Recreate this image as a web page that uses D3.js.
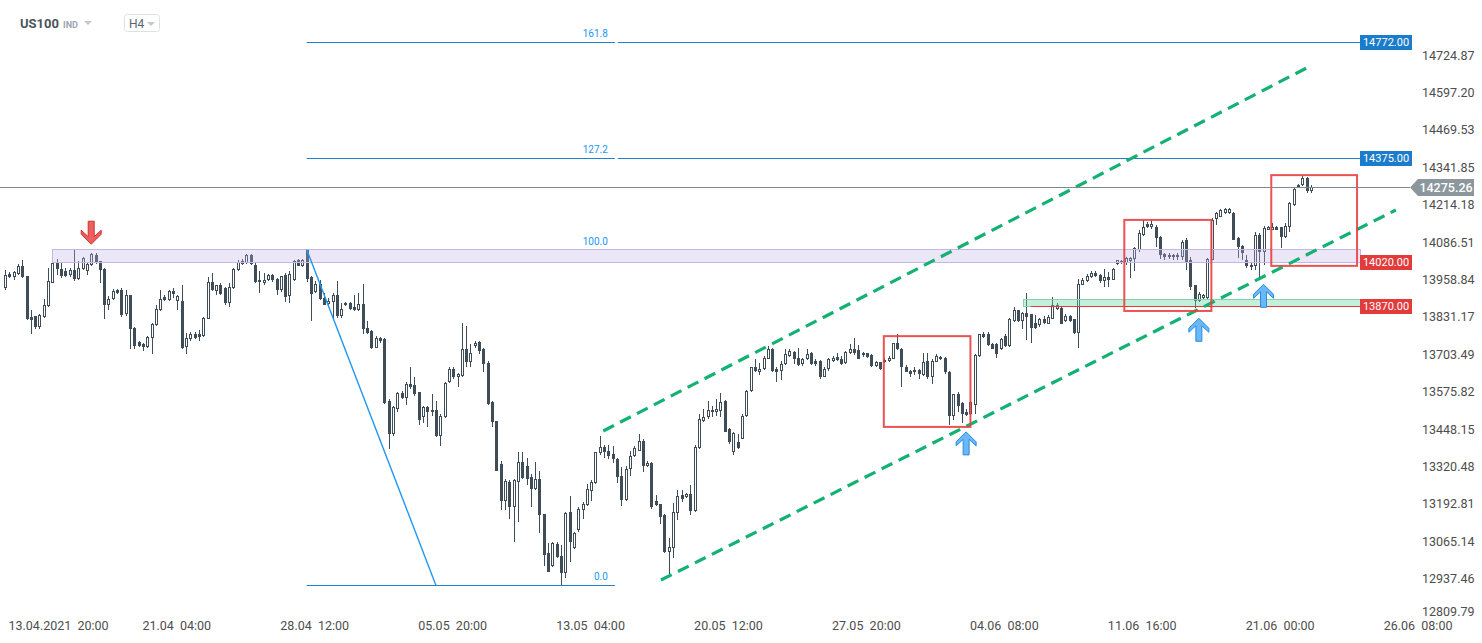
<!DOCTYPE html>
<html><head><meta charset="utf-8">
<script src="https://cdn.jsdelivr.net/npm/d3@7"></script>
<style>
html,body{margin:0;padding:0;background:#fff;}
svg{display:block;font-family:Roboto,"Noto Sans",Arial,sans-serif;}
</style></head><body>
<svg id="c" width="1482" height="643"></svg>
<script>
// ---------------- DATA ----------------
const openP = [13932,13980,13969,13980,14005,13974,13833,13835,13799,13833,13869,13949,14017,13996,13988,13977,13994,13962,13996,13988,
14011,14045,14025,13996,13875,13894,13924,13926,13841,13906,13796,13747,13739,13731,13762,13804,13858,13901,13892,13920,
13886,13886,13731,13758,13773,13773,13767,13826,13951,13920,13940,13932,13881,13932,13992,14014,14017,14045,14011,13960,
13949,13960,13977,13962,13926,13977,13903,13960,14026,14005,14060,13969,13919,13946,13898,13878,13883,13909,13835,13881,
13881,13866,13858,13878,13796,13784,13728,13762,13756,13545,13433,13518,13572,13557,13602,13600,13575,13490,13525,13515,
13515,13425,13490,13611,13656,13629,13631,13724,13679,13733,13747,13722,13674,13541,13476,13331,13203,13269,13184,13269,
13337,13323,13286,13244,13280,13161,13025,12983,13057,13017,12957,13167,13042,13104,13172,13189,13237,13266,13368,13388,
13374,13365,13348,13291,13206,13314,13357,13376,13410,13325,13334,13204,13193,13155,13031,13044,13164,13223,13218,13229,
13169,13384,13478,13490,13516,13509,13512,13546,13450,13371,13405,13416,13493,13578,13660,13645,13654,13690,13722,13654,
13648,13671,13699,13713,13694,13671,13688,13711,13682,13682,13629,13654,13682,13697,13690,13674,13708,13724,13720,13702,
13708,13702,13665,13677,13677,13682,13690,13742,13724,13663,13648,13643,13652,13635,13682,13626,13680,13697,13694,13645,
13495,13569,13538,13507,13501,13532,13699,13776,13776,13739,13739,13724,13767,13733,13818,13855,13818,13847,13841,13813,
13804,13824,13810,13826,13860,13864,13818,13835,13824,13779,13943,13954,13969,13983,13977,13954,13969,13960,14014,14023,
14017,14022,14030,14062,14113,14150,14139,14141,14107,14048,14045,14037,14037,14037,14096,14028,13940,13886,13898,13898,
14028,14166,14175,14187,14187,14189,14102,14076,14028,14011,14005,14113,14056,14130,14130,14141,14139,14107,14139,14215,
14275,14283,14306,14264];
const highP = [13994,13985,13988,14014,14028,13974,13858,13835,13841,13894,14000,14022,14030,14017,14000,14000,14060,14022,14037,14019,
14051,14051,14025,14000,13903,13928,13928,13932,13926,13909,13799,13750,13745,13767,13813,13875,13924,13909,13926,13932,
13909,13943,13779,13781,13781,13788,13833,13969,13983,13943,13949,13935,13949,14000,14028,14030,14048,14048,14017,13988,
13983,13980,13979,13966,13974,13983,13988,14026,14030,14030,14062,13974,13956,13960,13915,13898,13915,13954,13881,13884,
13883,13909,13915,13946,13818,13788,13767,13765,13762,13552,13529,13577,13580,13609,13663,13629,13577,13529,13529,13569,
13546,13501,13609,13660,13663,13640,13813,13801,13739,13750,13750,13728,13682,13546,13478,13342,13280,13274,13280,13371,
13373,13350,13297,13337,13308,13161,13059,13065,13065,13053,13167,13221,13099,13184,13201,13263,13274,13373,13427,13396,
13396,13393,13350,13320,13325,13376,13393,13433,13416,13339,13337,13223,13195,13158,13076,13198,13240,13240,13232,13257,
13396,13501,13518,13546,13529,13552,13572,13550,13452,13441,13433,13501,13584,13663,13688,13674,13699,13733,13728,13663,
13682,13722,13722,13716,13728,13694,13722,13713,13688,13686,13660,13694,13699,13708,13699,13716,13739,13762,13736,13713,
13711,13705,13682,13679,13694,13699,13745,13773,13728,13668,13652,13660,13656,13711,13711,13688,13705,13699,13697,13648,
13571,13575,13543,13518,13546,13705,13776,13781,13781,13745,13745,13762,13773,13830,13867,13858,13851,13915,13844,13838,
13830,13835,13838,13901,13881,13867,13841,13838,13826,13962,13966,13980,13988,13988,13980,13996,13985,14000,14028,14026,
14037,14039,14073,14130,14162,14158,14162,14147,14110,14051,14051,14048,14051,14096,14102,14037,13943,13917,13912,14034,
14170,14192,14200,14204,14204,14192,14107,14079,14045,14017,14124,14119,14144,14144,14153,14144,14141,14153,14226,14272,
14286,14314,14311,14283];
const lowP = [13926,13966,13960,13977,13966,13822,13775,13790,13792,13830,13867,13949,13977,13966,13969,13969,13954,13958,13992,13977,
14008,14014,13949,13824,13856,13892,13912,13833,13835,13722,13722,13731,13716,13728,13705,13801,13852,13886,13886,13898,
13858,13722,13705,13750,13756,13750,13765,13824,13920,13909,13906,13875,13867,13928,13988,14011,14014,14011,13949,13915,
13943,13954,13951,13909,13917,13883,13881,13954,14005,14003,13951,13818,13916,13889,13872,13869,13822,13830,13830,13869,
13856,13852,13852,13773,13776,13722,13725,13745,13535,13382,13427,13507,13554,13532,13586,13563,13464,13470,13456,13495,
13422,13391,13486,13606,13622,13595,13629,13663,13663,13728,13705,13643,13532,13456,13305,13172,13172,13144,13065,13133,
13280,13257,13184,13240,13093,12983,12960,12980,13010,12917,12940,12997,13040,13099,13144,13187,13203,13263,13362,13350,
13348,13334,13266,13187,13203,13291,13354,13374,13303,13320,13178,13187,13127,13028,12954,13008,13138,13201,13214,13155,
13167,13382,13473,13484,13490,13495,13490,13439,13399,13362,13382,13414,13490,13575,13645,13634,13652,13688,13645,13609,
13618,13668,13697,13671,13665,13665,13686,13668,13665,13622,13626,13648,13679,13682,13668,13671,13705,13702,13688,13697,
13694,13663,13663,13652,13674,13679,13688,13720,13595,13643,13626,13634,13620,13631,13620,13603,13677,13686,13639,13464,
13482,13507,13470,13495,13498,13501,13697,13762,13733,13722,13694,13720,13731,13731,13815,13815,13790,13754,13745,13792,
13799,13810,13807,13824,13858,13807,13815,13815,13776,13728,13940,13951,13966,13969,13949,13935,13935,13958,14011,14014,
14011,13966,13988,14053,14110,14136,14132,14073,14030,14028,14030,14028,14028,14026,13992,13926,13864,13883,13890,13892,
14026,14147,14173,14184,14183,14094,14034,14026,14000,13992,13994,13966,14011,14128,14128,14128,14068,14102,14124,14212,
14272,14280,14257,14257];
const closeP = [13977,13969,13985,14008,13969,13827,13823,13799,13838,13875,13954,14017,13996,13971,13974,13994,13962,14000,14034,14014,
14047,14017,13994,13875,13894,13920,13915,13839,13909,13792,13733,13733,13731,13765,13807,13860,13894,13890,13920,13911,
13903,13728,13762,13773,13762,13765,13830,13951,13924,13940,13912,13881,13935,13996,14019,14022,14045,14014,13951,13951,
13960,13977,13958,13924,13971,13901,13980,14022,14008,14026,13962,13912,13946,13895,13875,13886,13909,13835,13860,13872,
13860,13856,13878,13790,13779,13728,13762,13750,13538,13433,13524,13572,13557,13602,13592,13569,13482,13526,13507,13507,
13425,13495,13606,13656,13629,13637,13724,13677,13708,13745,13716,13671,13535,13473,13308,13203,13273,13184,13274,13337,
13282,13280,13244,13280,13155,13019,12963,13059,13014,12957,13163,13065,13093,13178,13195,13244,13269,13371,13388,13373,
13359,13346,13286,13206,13314,13359,13384,13410,13325,13334,13184,13189,13150,13031,13048,13167,13221,13212,13227,13169,
13388,13484,13490,13516,13507,13518,13543,13441,13407,13436,13384,13495,13580,13660,13648,13656,13694,13722,13648,13645,
13671,13705,13716,13688,13668,13688,13705,13671,13671,13629,13656,13690,13694,13686,13671,13713,13724,13708,13690,13711,
13697,13665,13677,13654,13686,13694,13742,13722,13660,13645,13637,13652,13637,13680,13626,13682,13699,13688,13643,13495,
13569,13529,13501,13498,13543,13702,13773,13765,13736,13724,13705,13756,13733,13824,13855,13818,13847,13833,13796,13796,
13824,13813,13833,13875,13874,13810,13835,13818,13779,13946,13960,13974,13983,13971,13954,13969,13960,13996,14026,14017,
14034,14034,14068,14121,14141,14139,14150,14102,14045,14037,14037,14045,14045,14090,14017,13935,13886,13912,13909,14030,
14164,14187,14198,14200,14200,14096,14073,14051,14005,14003,14113,14056,14136,14139,14139,14130,14107,14144,14221,14268,
14283,14306,14264,14275];

const priceTicks = [14724.87,14597.20,14469.53,14341.85,14214.18,14086.51,13958.84,13831.17,13703.49,13575.82,13448.15,13320.48,13192.81,13065.14,12937.46,12809.79];
const timeTickIdx = [0,32,64,96,128,160,192,224,256,288,320];
const timeTickLabels = ["13.04.2021  20:00","21.04  04:00","28.04  12:00","05.05  20:00","13.05  04:00","20.05  12:00","27.05  20:00","04.06  08:00","11.06  16:00","21.06  00:00","26.06  08:00"];
const lastPrice = 14275.26;
const blueLevels = [14772.00, 14375.00];
const redLevels = [14020.00, 13870.00];
const fibHigh = {i: 70, p: 14062.9};
const fibLow = {i: 100, p: 12915.5};
const fibEndIdx = 141.5;
const fibRatios = [0, 100, 127.2, 161.8];
const bandPurple = {i0: 10.9, i1: 314.4, p0: 14020, p1: 14063};
const bandGreen = {i0: 236.2, i1: 314.4, p0: 13870, p1: 13895};
const redLineStart = 238;
const channelUpper = [[138.8, 13443], [302.4, 14686]];
const channelLower = [[152.2, 12934], [322.7, 14198]];
const redBoxes = [[203.9, 224.0, 13767, 13457], [259.7, 279.9, 14164, 13853], [293.8, 313.7, 14317, 14007]];
const upArrows = [[223, 13440], [277, 13828], [292, 13944]];
const downArrows = [[20, 14081]];

// ---------------- SCALES ----------------
const svg = d3.select("#c");
const x = d3.scaleLinear().domain([0, 320]).range([5, 5 + 4.31 * 320]);
const y = d3.scaleLinear().domain([12809.79, 14724.87]).range([616.4, 55.7]);
const plotRight = 1360;
const ink = "#3e4d57";

// ---------------- CANDLES ----------------
const candles = openP.map((o, i) => ({i, o, h: highP[i], l: lowP[i], c: closeP[i]}));
const gC = svg.append("g").attr("shape-rendering", "crispEdges");
candles.forEach(d => {
  const px = Math.round(x(d.i));
  gC.append("rect").attr("x", px).attr("width", 1)
    .attr("y", Math.round(y(d.h))).attr("height", Math.max(1, Math.round(y(d.l)) - Math.round(y(d.h))))
    .attr("fill", ink);
  const up = d.c >= d.o;
  const top = Math.round(y(Math.max(d.o, d.c)));
  const bot = Math.round(y(Math.min(d.o, d.c)));
  const hgt = Math.max(bot - top, 2);
  gC.append("rect").attr("x", px - 1).attr("y", top).attr("width", 3).attr("height", hgt).attr("fill", ink);
  if (up && hgt > 2) {
    gC.append("rect").attr("x", px).attr("y", top + 1).attr("width", 1).attr("height", hgt - 2).attr("fill", "#fff");
  }
});

// ---------------- BANDS ----------------
function band(b, fill, stroke) {
  svg.append("rect").attr("x", Math.round(x(b.i0)) + 0.5).attr("y", Math.round(y(b.p1)) + 0.5)
    .attr("width", Math.round(x(b.i1) - x(b.i0))).attr("height", Math.round(y(b.p0) - y(b.p1)))
    .attr("fill", fill).attr("stroke", stroke).attr("stroke-width", 1);
}
band(bandPurple, "rgba(190,175,230,0.30)", "#c4b6e6");
band(bandGreen, "rgba(110,215,165,0.40)", "#7fd6ae");

// red line 13870
svg.append("line").attr("x1", x(redLineStart)).attr("x2", plotRight)
  .attr("y1", Math.round(y(redLevels[1])) + 0.5).attr("y2", Math.round(y(redLevels[1])) + 0.5)
  .attr("stroke", "#e53935").attr("stroke-width", 1);

// ---------------- FIB ----------------
const fibRange = fibHigh.p - fibLow.p;
const blue = "#2196f3";
fibRatios.forEach(r => {
  const p = fibLow.p + fibRange * r / 100;
  const yy = Math.round(y(p)) + 0.5;
  if (r !== 100) {
    svg.append("line").attr("x1", x(fibHigh.i)).attr("x2", x(fibEndIdx))
      .attr("y1", yy).attr("y2", yy).attr("stroke", "#1f7fd1").attr("stroke-width", 1);
  }
  svg.append("text").attr("x", x(fibEndIdx) - 7).attr("y", yy - 6)
    .attr("text-anchor", "end").attr("font-size", 10).attr("fill", blue)
    .text(r === 0 ? "0.0" : r.toFixed(1));
});
svg.append("line").attr("x1", x(fibHigh.i)).attr("y1", y(fibHigh.p))
  .attr("x2", x(fibLow.i)).attr("y2", y(fibLow.p))
  .attr("stroke", blue).attr("stroke-width", 1.4);

// blue horizontal levels
blueLevels.forEach(p => {
  const yy = Math.round(y(p)) + 0.5;
  svg.append("line").attr("x1", x(fibEndIdx) + 3).attr("x2", plotRight)
    .attr("y1", yy).attr("y2", yy).attr("stroke", "#1f7fd1").attr("stroke-width", 1);
});

// ---------------- CHANNEL ----------------
[channelUpper, channelLower].forEach(seg => {
  svg.append("line").attr("x1", x(seg[0][0])).attr("y1", y(seg[0][1]))
    .attr("x2", x(seg[1][0])).attr("y2", y(seg[1][1]))
    .attr("stroke", "#13b172").attr("stroke-width", 3.2)
    .attr("stroke-dasharray", "12,7");
});

// ---------------- RED BOXES ----------------
redBoxes.forEach(b => {
  svg.append("rect").attr("x", x(b[0])).attr("y", y(b[2]))
    .attr("width", x(b[1]) - x(b[0])).attr("height", y(b[3]) - y(b[2]))
    .attr("fill", "none").attr("stroke", "#e8403f").attr("stroke-opacity", 0.9).attr("stroke-width", 2);
});

// ---------------- ARROWS ----------------
const arrowPts = [[0,0],[10,10],[10,14],[3,7.5],[3,23],[-3,23],[-3,7.5],[-10,14],[-10,10]];
upArrows.forEach(a => {
  const ax = x(a[0]), ay = y(a[1]);
  svg.append("polygon").attr("points", arrowPts.map(p => [ax + p[0], ay + p[1]].join(",")).join(" "))
    .attr("fill", "#6ab8f7").attr("stroke", "#2a8be0").attr("stroke-width", 1);
});
downArrows.forEach(a => {
  const ax = x(a[0]), ay = y(a[1]);
  svg.append("polygon").attr("points", arrowPts.map(p => [ax + p[0], ay - p[1]].join(",")).join(" "))
    .attr("fill", "#ec5f5c").attr("stroke", "#d0302e").attr("stroke-width", 1);
});

// ---------------- CURRENT PRICE ----------------
const yLast = Math.round(y(lastPrice)) + 0.5;
svg.append("line").attr("x1", 0).attr("x2", 1410).attr("y1", yLast).attr("y2", yLast)
  .attr("stroke", "#7d8a92").attr("stroke-width", 1);
svg.append("polygon")
  .attr("points", [[1410, yLast], [1418, yLast - 8.5], [1474, yLast - 8.5], [1474, yLast + 8.5], [1418, yLast + 8.5]].map(p => p.join(",")).join(" "))
  .attr("fill", "#8c979d");
svg.append("text").attr("x", 1446).attr("y", yLast + 4.5).attr("text-anchor", "middle")
  .attr("font-size", 12.5).attr("font-weight", 500).attr("fill", "#fff").text(lastPrice.toFixed(2));

// ---------------- PRICE TAGS ----------------
function tag(p, color) {
  const yy = Math.round(y(p));
  svg.append("rect").attr("x", plotRight).attr("y", yy - 7).attr("width", 52).attr("height", 15).attr("fill", color);
  svg.append("text").attr("x", plotRight + 26).attr("y", yy + 4).attr("text-anchor", "middle")
    .attr("font-size", 11).attr("fill", "#fff").text(p.toFixed(2));
}
blueLevels.forEach(p => tag(p, "#1a7ccb"));
redLevels.forEach(p => tag(p, "#e23b3b"));

// ---------------- AXES ----------------
const yAxis = d3.axisRight(y).tickValues(priceTicks).tickSize(0).tickPadding(0).tickFormat(d3.format(".2f"));
const gy = svg.append("g").attr("transform", "translate(1422,0)").call(yAxis);
gy.select(".domain").remove();
gy.selectAll(".tick").attr("transform", d => `translate(0,${Math.min(y(d), 612)})`);
gy.selectAll("text").attr("font-size", 12.5).attr("fill", "#4d4d4d").attr("font-family", "Roboto");

const xAxis = d3.axisBottom(x).tickValues(timeTickIdx).tickSize(0).tickPadding(0)
  .tickFormat((d, k) => timeTickLabels[k]);
const gx = svg.append("g").attr("transform", "translate(0,621)").call(xAxis);
gx.select(".domain").remove();
gx.selectAll("text").attr("text-anchor", "start").attr("dy", "0.71em").attr("font-size", 12.5)
  .attr("fill", "#4d4d4d").attr("font-family", "Roboto").style("white-space", "pre")
  .attr("x", (d, k) => k === 0 ? 3 : -1);

// ---------------- HEADER ----------------
svg.append("text").attr("x", 20).attr("y", 28).attr("font-size", 13).attr("font-weight", 700).attr("fill", "#4a545b").text("US100");
svg.append("text").attr("x", 63).attr("y", 28).attr("font-size", 9).attr("font-weight", 700).attr("fill", "#9aa6ae").text("IND");
svg.append("polygon").attr("points", "84,21 92,21 88,25").attr("fill", "#c2c8cc");
svg.append("rect").attr("x", 124.5).attr("y", 14.5).attr("width", 35).attr("height", 17).attr("rx", 3)
  .attr("fill", "#fff").attr("stroke", "#dde1e4");
svg.append("text").attr("x", 129).attr("y", 28).attr("font-size", 12).attr("fill", "#5a646b").text("H4");
svg.append("polygon").attr("points", "147,22 155,22 151,26").attr("fill", "#c2c8cc");
</script>
</body></html>
